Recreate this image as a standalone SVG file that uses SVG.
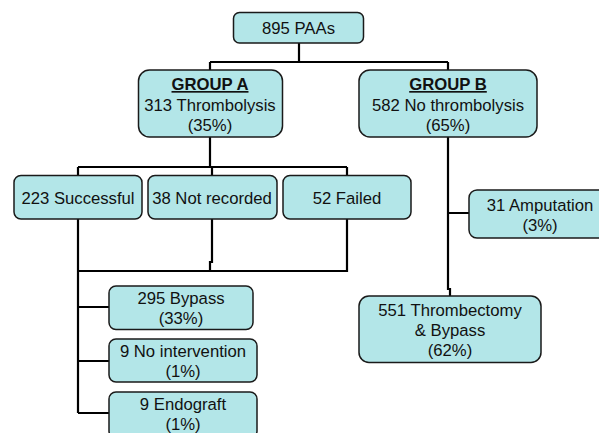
<svg xmlns="http://www.w3.org/2000/svg" width="599" height="433" viewBox="0 0 599 433">
<style>
.box{fill:#b3e6e8;stroke:#1a1a1a;stroke-width:1.5}
.t{font-family:"Liberation Sans",Arial,sans-serif;font-size:16.7px;fill:#111;text-anchor:middle}
.b{font-weight:bold;text-decoration:underline}
.ln{fill:none;stroke:#000;stroke-width:2.2}
</style>
<rect width="599" height="433" fill="#fff"/>
<g id="connectors">
<path class="ln" d="M299,43 V62 M210,62 H448 M210,62 V70 M448,62 V70"/>
<path class="ln" d="M210,137 V167 M78,167 H347 M78,167 V175 M212,167 V175 M347,167 V175"/>
<path class="ln" d="M78,219 V413 M212,219 V262 H210 V271 M347,219 V271 H77"/>
<path class="ln" d="M78,307 H109 M78,361 H109 M78,413 H109"/>
<path class="ln" d="M448,137 V289 H450 V296 M448,213 H469"/>
</g>
<g id="root">
<rect class="box" x="233.5" y="12.5" width="130" height="30.5" rx="6"/>
<text class="t" x="298.5" y="33.5">895 PAAs</text>
</g>
<g id="groupA">
<rect class="box" x="138.5" y="70" width="144" height="67" rx="11"/>
<text class="t b" x="210" y="90">GROUP A</text>
<text class="t" x="210" y="111">313 Thrombolysis</text>
<text class="t" x="210" y="131">(35%)</text>
</g>
<g id="groupB">
<rect class="box" x="359" y="70" width="178" height="67" rx="11"/>
<text class="t b" x="448" y="90">GROUP B</text>
<text class="t" x="448" y="111">582 No thrombolysis</text>
<text class="t" x="448" y="131">(65%)</text>
</g>
<g id="successful">
<rect class="box" x="14" y="175.5" width="128" height="43.5" rx="7"/>
<text class="t" x="78" y="204">223 Successful</text>
</g>
<g id="notrecorded">
<rect class="box" x="148" y="175.5" width="129" height="43.5" rx="7"/>
<text class="t" x="212" y="204">38 Not recorded</text>
</g>
<g id="failed">
<rect class="box" x="283" y="175.5" width="128" height="43.5" rx="7"/>
<text class="t" x="347" y="204">52 Failed</text>
</g>
<g id="amputation">
<rect class="box" x="469" y="190" width="145" height="48" rx="8"/>
<text class="t" x="540" y="211">31 Amputation</text>
<text class="t" x="540" y="231">(3%)</text>
</g>
<g id="thrombectomy">
<rect class="box" x="359" y="296" width="182" height="66.5" rx="10"/>
<text class="t" x="450" y="316">551 Thrombectomy</text>
<text class="t" x="450" y="336">&amp; Bypass</text>
<text class="t" x="450" y="356">(62%)</text>
</g>
<g id="bypass">
<rect class="box" x="109" y="286" width="144" height="43.5" rx="7"/>
<text class="t" x="181" y="304">295 Bypass</text>
<text class="t" x="181" y="324">(33%)</text>
</g>
<g id="nointervention">
<rect class="box" x="109" y="339" width="148" height="43" rx="7"/>
<text class="t" x="183" y="357">9 No intervention</text>
<text class="t" x="183" y="377">(1%)</text>
</g>
<g id="endograft">
<rect class="box" x="109" y="392" width="148" height="46" rx="7"/>
<text class="t" x="183" y="410">9 Endograft</text>
<text class="t" x="183" y="430">(1%)</text>
</g>
</svg>
